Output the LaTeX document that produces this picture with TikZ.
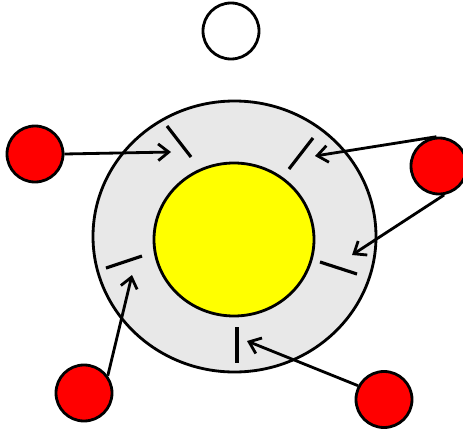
\documentclass[tikz,border=0pt]{standalone}
\usepackage{xcolor}
\usepackage{tikz}
\usetikzlibrary{arrows.meta, positioning, shapes.geometric}
\definecolor{coreyellow}{RGB}{255,255,0}
\definecolor{shellgray}{RGB}{232,232,232}

\begin{document}
\begin{tikzpicture}[
    >={Straight Barb[length=6pt,width=9.5pt]},
    line width=1.6pt,
    ball/.style={draw, circle, minimum size=1.12cm, inner sep=0pt, fill=red},
    slot/.style={line width=1.8pt},
    bind/.style={->, line width=1.6pt}
  ]
  \useasboundingbox (0,0) rectangle (9.26,8.62);

  % Outer shell and core
  \node[draw, ellipse, fill=shellgray, minimum width=5.66cm, minimum height=5.42cm,
        inner sep=0pt] (shell) at (4.69,3.89) {};
  \node[draw, ellipse, fill=coreyellow, minimum width=3.2cm, minimum height=3.06cm,
        inner sep=0pt] (core) at (4.68,3.83) {};

  % Free (empty) site on top
  \node[ball, fill=white] (free) at (4.62,8.00) {};

  % Red balls
  \node[ball] (ballL)  at (0.70,5.54) {};
  \node[ball] (ballR)  at (8.78,5.30) {};
  \node[ball] (ballBL) at (1.68,0.76) {};
  \node[ball] (ballBR) at (7.68,0.63) {};

  % Binding slots in the shell
  \foreach \xa/\ya/\xb/\yb in {3.34/6.10/3.82/5.48, 6.26/5.86/5.78/5.24,
                               6.40/3.38/7.14/3.14, 4.74/2.08/4.74/1.36,
                               2.12/3.26/2.84/3.50}
    \draw[slot] (\xa,\ya) -- (\xb,\yb);

  % Arrow targets
  \coordinate (tL)  at (3.42,5.58);
  \coordinate (tR1) at (6.30,5.50);
  \coordinate (tR2) at (7.04,3.52);
  \coordinate (tBR) at (4.94,1.80);
  \coordinate (tBL) at (2.64,3.12);

  % Arrows from balls to slots
  \draw[bind] (ballL.east) -- (tL);
  \draw[bind] (ballR.95) -- (tR1);
  \draw[bind] (ballR.-80) -- (tR2);
  \draw[bind] (ballBR.152) -- (tBR);
  \draw[bind] (ballBL.36) -- (tBL);

\end{tikzpicture}
\end{document}
